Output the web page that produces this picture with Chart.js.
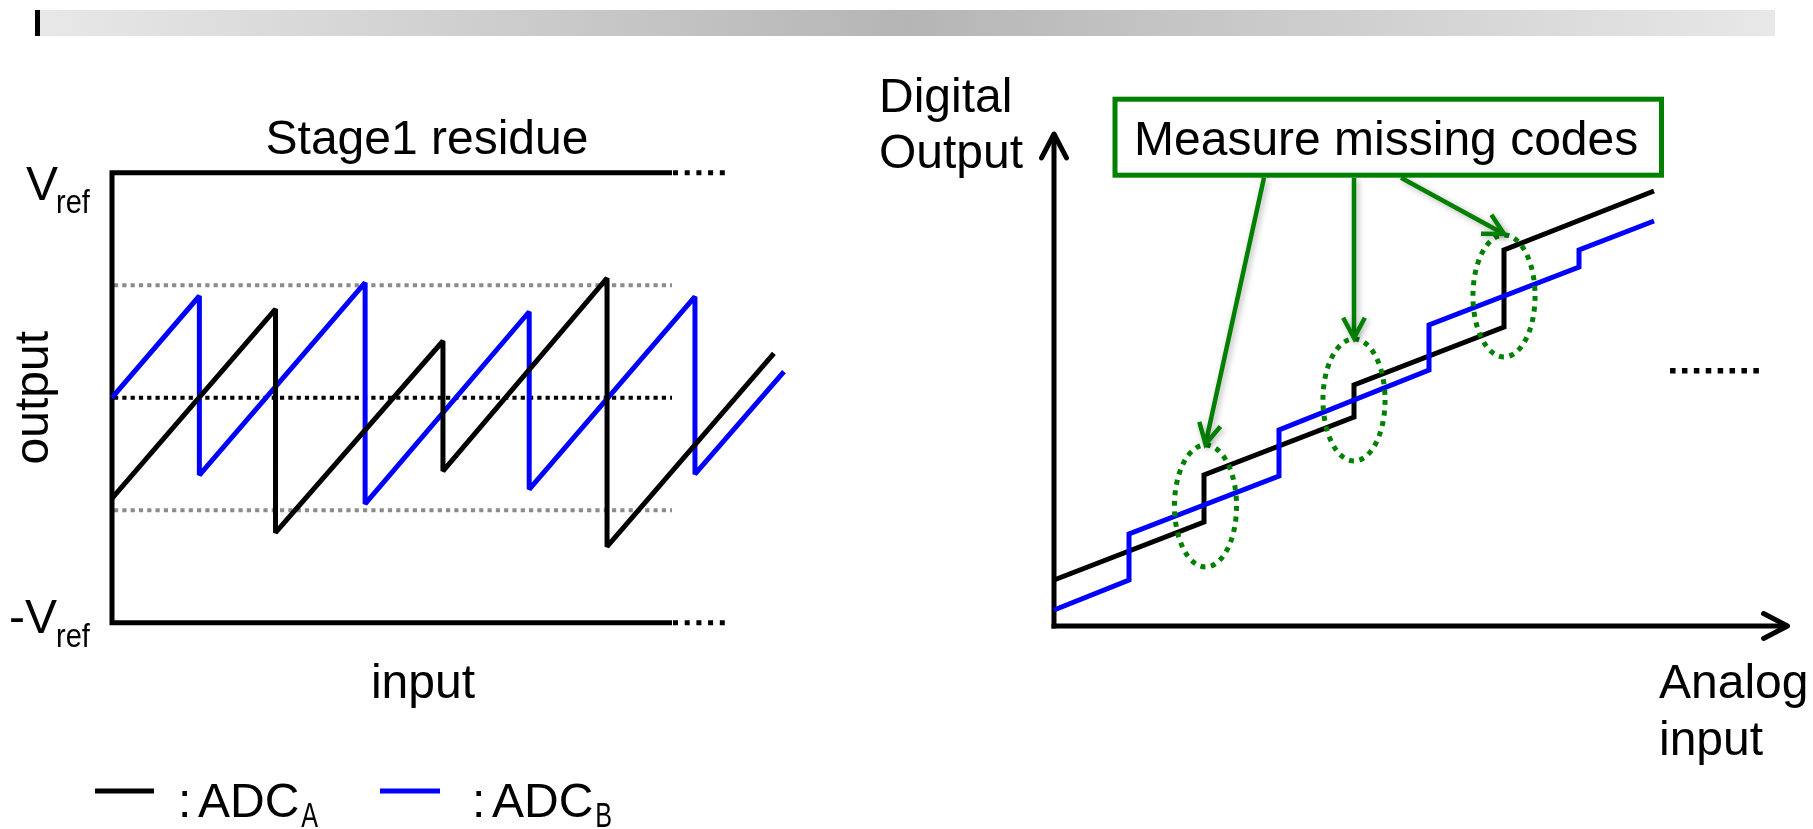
<!DOCTYPE html>
<html><head><meta charset="utf-8">
<script src="https://cdn.jsdelivr.net/npm/chart.js@4.4.1/dist/chart.umd.min.js"></script>
<style>
html,body{margin:0;padding:0;background:#fff;width:1813px;height:829px;overflow:hidden;}
#bar{position:absolute;left:40px;top:10px;width:1735px;height:26px;background:linear-gradient(to right,#e8e8e8,#b5b5b5 50%,#e8e8e8);}
#mark{position:absolute;left:35px;top:10px;width:5px;height:26px;background:#000;}
#c1{position:absolute;left:0;top:0;}
#c2{position:absolute;left:850px;top:0;}
</style></head><body>
<div id="bar"></div><div id="mark"></div>
<canvas id="c1" width="850" height="829"></canvas>
<canvas id="c2" width="963" height="829"></canvas>
<script>
// ---------- DATA ----------
// Left panel: stage-1 residue (input in arbitrary units, output in units of Vref)
const residueInputA  = [0, 2.92, 2.92, 5.91, 5.91, 8.84, 8.84, 11.82];
const residueOutputA = [-0.447, 0.394, -0.600, 0.252, -0.326, 0.531, -0.662, 0.197];
const residueInputB  = [0, 1.56, 1.56, 4.52, 4.52, 7.45, 7.45, 10.41, 10.41, 12.0];
const residueOutputB = [0.0, 0.452, -0.344, 0.511, -0.472, 0.382, -0.407, 0.449, -0.340, 0.116];
const residueRefLevels   = [1, -1];          // +Vref, -Vref
const residueRefLabels   = ['V', '-V'];
const residueRefSubs     = ['ref', 'ref'];
const residueGuideLevels = [0.5, 0, -0.5];   // dotted guide lines
const residueAxisEnd = 10, residueDotsEnd = 10.96;

// Right panel: digital output vs analog input
const transferInputA = [0, 1, 1, 2, 2, 3, 3, 4];
const transferCodeA  = [0.46, 1.04, 1.51, 2.09, 2.41, 2.99, 3.76, 4.35];
const transferInputB = [0, 0.5, 0.5, 1.5, 1.5, 2.5, 2.5, 3.5, 3.5, 4];
const transferCodeB  = [0.16, 0.46, 0.92, 1.50, 1.96, 2.56, 3.01, 3.59, 3.76, 4.05];
const missingCodeX = [1.01, 2.0, 3.0];
const missingCodeY = [1.20, 2.26, 3.30];
const missingCodeRX = 0.207, missingCodeRY = 0.61;

const seriesNames = ['ADC', 'ADC'];
const seriesSubs  = ['A', 'B'];
const seriesColors = ['#000000', '#0000ff'];

// ---------- helpers ----------
const FONT = '"Liberation Sans", Arial, Helvetica, sans-serif';
const FS = 48;
function txt(ctx, s, x, y, size, o = {}) {
  ctx.save();
  ctx.font = size + 'px ' + FONT;
  ctx.fillStyle = o.color || '#000';
  ctx.textAlign = o.align || 'left';
  ctx.textBaseline = 'alphabetic';
  ctx.translate(x, y);
  if (o.rot) ctx.rotate(o.rot);
  if (o.sx) ctx.scale(o.sx, 1);
  ctx.fillText(s, 0, 0);
  ctx.restore();
}
function pts(xs, ys) { return xs.map((x, i) => ({ x: x, y: ys[i] })); }
function openHead(ctx, tx, ty, fx, fy, len, ang) {
  const a = Math.atan2(fy - ty, fx - tx);
  ctx.beginPath();
  ctx.moveTo(tx + len * Math.cos(a - ang), ty + len * Math.sin(a - ang));
  ctx.lineTo(tx, ty);
  ctx.lineTo(tx + len * Math.cos(a + ang), ty + len * Math.sin(a + ang));
  ctx.stroke();
}
const commonDS = { borderWidth: 5, pointRadius: 0, tension: 0, clip: false, borderJoinStyle: 'bevel', borderCapStyle: 'butt', fill: false };

// ---------- LEFT CHART ----------
const leftDecor = {
  id: 'leftDecor',
  beforeDatasetsDraw(chart) {
    const { ctx, scales: { x, y } } = chart;
    const X0 = x.getPixelForValue(0), X1 = x.getPixelForValue(residueAxisEnd), X2 = x.getPixelForValue(residueDotsEnd);
    ctx.save();
    ctx.lineWidth = 4; ctx.setLineDash([4.2, 4.1]);
    residueGuideLevels.forEach(v => {
      ctx.strokeStyle = v === 0 ? '#000' : '#8c8c8c';
      const py = y.getPixelForValue(v);
      ctx.beginPath(); ctx.moveTo(X0 + 2, py); ctx.lineTo(X1, py); ctx.stroke();
    });
    ctx.setLineDash([]); ctx.strokeStyle = '#000'; ctx.lineWidth = 5; ctx.lineJoin = 'miter';
    const yT = y.getPixelForValue(residueRefLevels[0]), yB = y.getPixelForValue(residueRefLevels[1]);
    ctx.beginPath(); ctx.moveTo(X1, yT); ctx.lineTo(X0, yT); ctx.lineTo(X0, yB); ctx.lineTo(X1, yB); ctx.stroke();
    ctx.setLineDash([5, 6.7]);
    [yT, yB].forEach(py => { ctx.beginPath(); ctx.moveTo(X1 + 1, py); ctx.lineTo(X2, py); ctx.stroke(); });
    ctx.restore();
  },
  afterDraw(chart) {
    const { ctx, scales: { x, y } } = chart;
    const X0 = x.getPixelForValue(0);
    const yT = y.getPixelForValue(residueRefLevels[0]), yB = y.getPixelForValue(residueRefLevels[1]);
    txt(ctx, 'Stage1 residue', 427, yT - 19, FS, { align: 'center' });
    txt(ctx, residueRefLabels[0], X0 - 86, yT + 27, FS);
    txt(ctx, residueRefSubs[0], X0 - 56, yT + 40, 33, { sx: 0.88 });
    txt(ctx, residueRefLabels[1], X0 - 103, yB + 10, FS);
    txt(ctx, residueRefSubs[1], X0 - 56, yB + 24, 33, { sx: 0.88 });
    txt(ctx, 'output', 48, y.getPixelForValue(0), FS, { align: 'center', rot: -Math.PI / 2 });
    txt(ctx, 'input', 423, yB + 75, FS, { align: 'center' });
    const ly = 791;
    const entries = [{ x0: 95, x1: 154, tx: 178 }, { x0: 380, x1: 440, tx: 472 }];
    entries.forEach((e, i) => {
      ctx.save(); ctx.strokeStyle = chart.data.datasets[i].borderColor; ctx.lineWidth = 5;
      ctx.beginPath(); ctx.moveTo(e.x0, ly); ctx.lineTo(e.x1, ly); ctx.stroke(); ctx.restore();
      txt(ctx, ':', e.tx, 817, 48);
      ctx.save(); ctx.font = '48px ' + FONT; const w = ctx.measureText(seriesNames[i]).width; ctx.restore();
      txt(ctx, seriesNames[i], e.tx + 20, 817, 48);
      txt(ctx, seriesSubs[i], e.tx + 20 + w + 2, 827, 35, { sx: 0.72 });
    });
  }
};

new Chart(document.getElementById('c1'), {
  type: 'line',
  data: { datasets: [
    Object.assign({ label: 'ADC_A', data: pts(residueInputA, residueOutputA), borderColor: seriesColors[0] }, commonDS),
    Object.assign({ label: 'ADC_B', data: pts(residueInputB, residueOutputB), borderColor: seriesColors[1] }, commonDS)
  ] },
  options: {
    responsive: false, animation: false, devicePixelRatio: 1, events: [],
    layout: { padding: { left: 112, top: 172.7, right: 850 - 112 - 12.5 * 56, bottom: 829 - 622.7 } },
    scales: { x: { type: 'linear', min: 0, max: 12.5, display: false }, y: { type: 'linear', min: -1, max: 1, display: false } },
    plugins: { legend: { display: false }, tooltip: { enabled: false } }
  },
  plugins: [leftDecor]
});

// ---------- RIGHT CHART ----------
const OFF = 850;
const GREEN = '#008000';
const rightDecor = {
  id: 'rightDecor',
  beforeDatasetsDraw(chart) {
    const { ctx, scales: { x, y } } = chart;
    const x0 = x.getPixelForValue(0), y0 = y.getPixelForValue(0);
    const tipY = y.getPixelForValue(4.92), tipX = x.getPixelForValue(4.89);
    ctx.save();
    ctx.strokeStyle = '#000'; ctx.lineWidth = 5; ctx.lineCap = 'butt';
    ctx.beginPath(); ctx.moveTo(x0, y0 + 2.5); ctx.lineTo(x0, tipY); ctx.stroke();
    ctx.beginPath(); ctx.moveTo(x0 - 2.5, y0); ctx.lineTo(tipX, y0); ctx.stroke();
    ctx.lineJoin = 'round'; ctx.lineCap = 'round';
    openHead(ctx, x0, tipY, x0, tipY + 10, 27, 0.48);
    openHead(ctx, tipX, y0, tipX - 10, y0, 27, 0.48);
    ctx.lineCap = 'butt'; ctx.lineWidth = 5.5; ctx.setLineDash([5.5, 6.4]);
    const dy = y.getPixelForValue(2.553);
    ctx.beginPath(); ctx.moveTo(x.getPixelForValue(4.107), dy); ctx.lineTo(x.getPixelForValue(4.707), dy); ctx.stroke();
    ctx.restore();
  },
  afterDatasetsDraw(chart) {
    const { ctx, scales: { x, y } } = chart;
    ctx.save();
    ctx.strokeStyle = GREEN; ctx.lineWidth = 5; ctx.setLineDash([5, 5.6]);
    const tops = [];
    missingCodeX.forEach((cx, i) => {
      const px = x.getPixelForValue(cx), py = y.getPixelForValue(missingCodeY[i]);
      const rx = x.getPixelForValue(missingCodeRX) - x.getPixelForValue(0);
      const ry = y.getPixelForValue(0) - y.getPixelForValue(missingCodeRY);
      ctx.beginPath(); ctx.ellipse(px, py, rx, ry, 0, 0, Math.PI * 2); ctx.stroke();
      tops.push([px, py - ry - 1]);
    });
    ctx.setLineDash([]);
    const bx0 = 1115 - OFF, bx1 = 1661.5 - OFF, by0 = 99.2, by1 = 175.2;
    ctx.fillStyle = '#fff';
    ctx.fillRect(bx0, by0, bx1 - bx0, by1 - by0);
    ctx.lineWidth = 5; ctx.strokeStyle = GREEN;
    ctx.strokeRect(bx0, by0, bx1 - bx0, by1 - by0);
    txt(ctx, 'Measure missing codes', 1134 - OFF, 155, FS);
    const starts = [1264 - OFF, 1354 - OFF, 1401 - OFF];
    ctx.strokeStyle = GREEN; ctx.lineWidth = 4.5; ctx.lineCap = 'butt'; ctx.lineJoin = 'miter';
    ctx.shadowColor = 'rgba(0,0,0,0.3)'; ctx.shadowBlur = 6; ctx.shadowOffsetX = 2; ctx.shadowOffsetY = 2;
    starts.forEach((sx, i) => {
      const [tx, ty] = tops[i];
      const sy = by1 + 2.5;
      ctx.beginPath(); ctx.moveTo(sx, sy); ctx.lineTo(tx, ty); ctx.stroke();
      openHead(ctx, tx, ty, sx, sy, 23, 0.49);
    });
    ctx.restore();
    txt(ctx, 'Digital', 879 - OFF, 112, FS);
    txt(ctx, 'Output', 879 - OFF, 168, FS);
    txt(ctx, 'Analog', 1659 - OFF, 698, FS);
    txt(ctx, 'input', 1659 - OFF, 755, FS);
  }
};

new Chart(document.getElementById('c2'), {
  type: 'line',
  data: { datasets: [
    Object.assign({ label: 'ADC_B', data: pts(transferInputB, transferCodeB), borderColor: seriesColors[1] }, commonDS, { borderJoinStyle: 'miter' }),
    Object.assign({ label: 'ADC_A', data: pts(transferInputA, transferCodeA), borderColor: seriesColors[0] }, commonDS, { borderJoinStyle: 'miter' })
  ] },
  options: {
    responsive: false, animation: false, devicePixelRatio: 1, events: [],
    layout: { padding: { left: 1054 - OFF, top: 126, right: 963 - (1054 - OFF) - 750, bottom: 829 - 626 } },
    scales: { x: { type: 'linear', min: 0, max: 5, display: false }, y: { type: 'linear', min: 0, max: 5, display: false } },
    plugins: { legend: { display: false }, tooltip: { enabled: false } }
  },
  plugins: [rightDecor]
});
</script>
</body></html>
